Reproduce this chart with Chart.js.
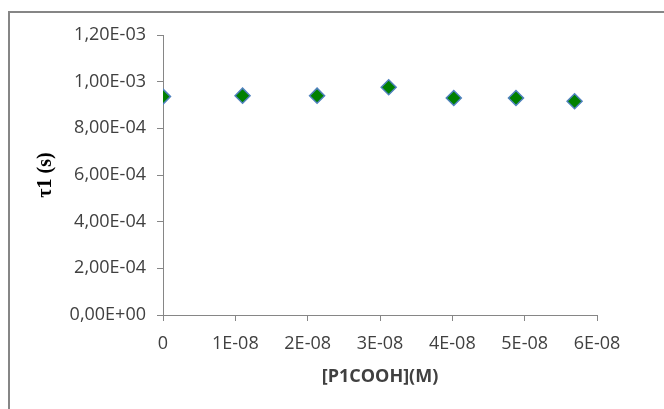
<!DOCTYPE html>
<html>
<head>
<meta charset="utf-8">
<script src="https://cdn.jsdelivr.net/npm/chart.js@4/dist/chart.umd.min.js"></script>
<style>
  html, body { margin: 0; padding: 0; background: #ffffff; }
  #wrap { position: relative; width: 664px; height: 409px; }
</style>
</head>
<body>
<div id="wrap"><canvas id="c" width="664" height="409"></canvas></div>
<script>
// Data
const concentrationM = [0, 1.10e-8, 2.13e-8, 3.12e-8, 4.02e-8, 4.88e-8, 5.69e-8];
const tau1Seconds    = [9.36e-4, 9.40e-4, 9.40e-4, 9.76e-4, 9.30e-4, 9.30e-4, 9.16e-4];
const xTickValues = [0, 1e-8, 2e-8, 3e-8, 4e-8, 5e-8, 6e-8];
const yTickValues = [0, 2e-4, 4e-4, 6e-4, 8e-4, 1e-3, 1.2e-3];
const xTitle = '[P1COOH](M)';
const yTitle = 'τ1 (s)';

const points = concentrationM.map((x, i) => ({ x: x, y: tau1Seconds[i] }));

function fmtY(v) {
  let s = Number(v).toExponential(2);
  let [m, e] = s.split('e');
  let sign = e[0] === '-' ? '-' : '+';
  let d = e.replace(/^[+-]/, '');
  if (d.length < 2) d = '0' + d;
  return m.replace('.', ',') + 'E' + sign + d;
}
function fmtX(v) {
  if (Math.abs(v) < 1e-12) return '0';
  let s = Number(v).toExponential(0);
  let [m, e] = s.split('e');
  let sign = e[0] === '-' ? '-' : '+';
  let d = e.replace(/^[+-]/, '');
  if (d.length < 2) d = '0' + d;
  return m + 'E' + sign + d;
}

const framePlugin = {
  id: 'frame',
  beforeDraw(chart) {
    const ctx = chart.ctx;
    ctx.save();
    ctx.fillStyle = '#ffffff';
    ctx.fillRect(0, 0, chart.width, chart.height);
    ctx.strokeStyle = '#868686';
    ctx.lineWidth = 2;
    ctx.strokeRect(9, 12, 800, 600);
    ctx.restore();
  }
};

const textColor = '#404040';
const axisColor = '#868686';

new Chart(document.getElementById('c'), {
  type: 'scatter',
  data: {
    datasets: [{
      data: points,
      pointStyle: 'rectRot',
      pointRadius: 7.5,
      pointHoverRadius: 7.5,
      backgroundColor: '#008000',
      borderColor: '#4f81bd',
      borderWidth: 1.5,
      showLine: false
    }]
  },
  options: {
    responsive: false,
    animation: false,
    devicePixelRatio: 1,
    layout: { padding: { left: 12, top: 35, right: 67, bottom: 21 } },
    plugins: { legend: { display: false }, tooltip: { enabled: false } },
    scales: {
      x: {
        type: 'linear',
        min: 0, max: 6e-8,
        afterBuildTicks(scale) { scale.ticks = xTickValues.map(v => ({ value: v })); },
        afterFit(scale) { scale.height = 409 - 315 - 21; },
        border: { display: true, color: axisColor, width: 1 },
        grid: { display: true, drawOnChartArea: false, drawTicks: true, tickLength: 6, color: axisColor },
        ticks: {
          color: textColor,
          font: { family: 'Open Sans', size: 18 },
          padding: 12,
          maxRotation: 0,
          callback: v => fmtX(v)
        },
        title: {
          display: true, text: xTitle, color: textColor,
          font: { family: 'Open Sans', size: 18, weight: 'bold' },
          padding: { top: 2, bottom: 0 }
        }
      },
      y: {
        type: 'linear',
        min: 0, max: 1.2e-3,
        afterBuildTicks(scale) { scale.ticks = yTickValues.map(v => ({ value: v })); },
        afterFit(scale) { scale.width = 163 - 12; },
        border: { display: true, color: axisColor, width: 1 },
        grid: { display: true, drawOnChartArea: false, drawTicks: true, tickLength: 6, color: axisColor },
        ticks: {
          color: textColor,
          font: { family: 'Open Sans', size: 18 },
          padding: 11,
          callback: v => fmtY(v)
        },
        title: {
          display: true, text: yTitle, color: '#000000',
          font: { family: 'Liberation Serif', size: 20, weight: 'bold' },
          padding: { top: 22, bottom: 0 }
        }
      }
    }
  },
  plugins: [framePlugin]
});
</script>
</body>
</html>
